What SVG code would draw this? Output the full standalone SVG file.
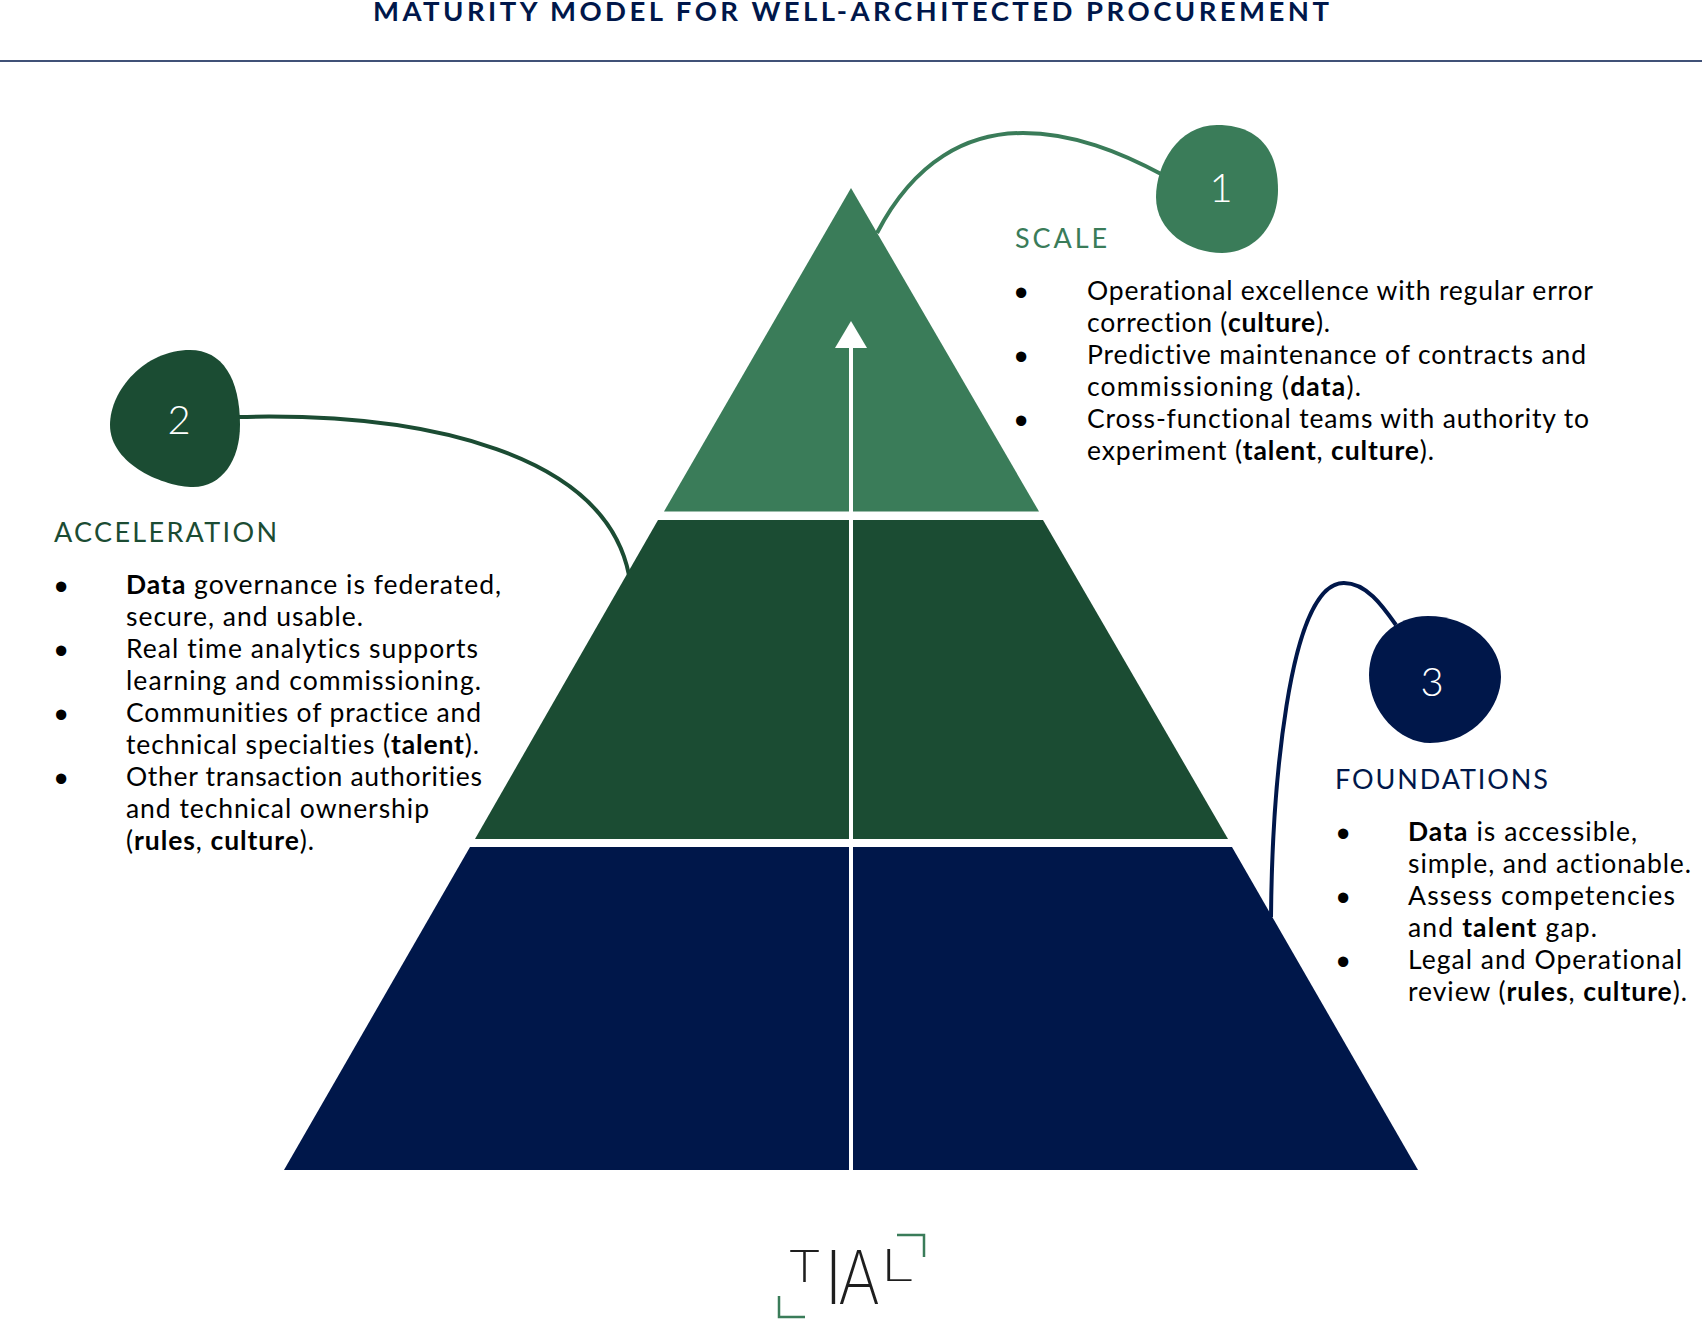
<svg xmlns="http://www.w3.org/2000/svg" width="1702" height="1320" viewBox="0 0 1702 1320">
<style>
text{font-family:"Lato","Noto Sans","Liberation Sans",sans-serif;font-variant-ligatures:none}
.t{font-size:26.5px;fill:#000}
.t tspan{font-weight:700}
.b{font-size:38px;fill:#000;font-family:"Liberation Sans",sans-serif}
.h{font-size:27px}
.n{font-size:40px;fill:#fff;text-anchor:middle;font-weight:300}
.c{fill:none;stroke-width:4}
.g{fill:#3a7c59}.d{fill:#1b4c33}.v{fill:#00174a}
.lg{fill:#1e1e1e;font-family:"Inter","Lato",sans-serif;font-weight:200}
</style>
<g id="title">
<text x="373" y="21" font-size="27.5" font-weight="700" class="v" textLength="956">MATURITY MODEL FOR WELL-ARCHITECTED PROCUREMENT</text>
<line x1="0" y1="61" x2="1702" y2="61" stroke="#00174a" stroke-width="1.6"/>
</g>
<g id="connectors">
<path class="c" stroke="#3a7c59" d="M877 233C915 160 968 133 1023 133C1073 133 1120 152 1163 175"/>
<path class="c" stroke="#1b4c33" d="M238 417C430 412 605 455 629 575"/>
<path class="c" stroke="#00174a" d="M1271 917C1272 800 1287 582 1344 583C1366 583 1382 605 1396 625"/>
</g>
<g id="pyramid">
<polygon id="tier-scale" class="g" points="851,188 1039,511.5 664,511.5"/>
<polygon id="tier-acceleration" class="d" points="658,520 1043,520 1228,839 475,839"/>
<polygon id="tier-foundations" class="v" points="470,847 1232,847 1418,1170 284,1170"/>
<g id="arrow">
<rect x="849" y="348" width="4" height="822" fill="#fff"/>
<polygon points="851,321 867,348 835,348" fill="#fff"/>
</g>
</g>
<g id="node-1">
<path class="g" d="M1217 125C1255 125 1278 146 1278 190C1278 225 1255 253 1222 253C1190 253 1156 232 1156 197C1156 165 1178 125 1217 125Z"/>
<text class="n" x="1221" y="202">1</text>
</g>
<g id="node-2">
<path class="d" d="M190 350C222 350 240 378 240 425C240 460 222 487 193 487C165 487 110 465 110 425C110 390 145 350 190 350Z"/>
<text class="n" x="179" y="434">2</text>
</g>
<g id="node-3">
<path class="v" d="M1428 616C1470 616 1501 645 1501 677C1501 705 1475 743 1430 743C1400 743 1369 712 1369 675C1369 640 1395 616 1428 616Z"/>
<text class="n" x="1432" y="696">3</text>
</g>
<g id="text-scale">
<text class="h g" x="1015" y="248" textLength="92">SCALE</text>
<text class="b" x="1014.500" y="306">•</text><text class="b" x="1014.500" y="370">•</text><text class="b" x="1014.500" y="434">•</text>
<text class="t" x="1087" y="300" textLength="506">Operational excellence with regular error</text>
<text class="t" x="1087" y="332" textLength="243">correction (<tspan>culture</tspan>).</text>
<text class="t" x="1087" y="364" textLength="499">Predictive maintenance of contracts and</text>
<text class="t" x="1087" y="396" textLength="274">commissioning (<tspan>data</tspan>).</text>
<text class="t" x="1087" y="428" textLength="502">Cross-functional teams with authority to</text>
<text class="t" x="1087" y="460" textLength="347">experiment (<tspan>talent</tspan>, <tspan>culture</tspan>).</text>
</g>
<g id="text-acceleration">
<text class="h d" x="54" y="542" textLength="223">ACCELERATION</text>
<text class="b" x="54.500" y="600">•</text><text class="b" x="54.500" y="664">•</text><text class="b" x="54.500" y="728">•</text><text class="b" x="54.500" y="792">•</text>
<text class="t" x="126" y="594" textLength="375"><tspan>Data</tspan> governance is federated,</text>
<text class="t" x="126" y="626" textLength="237">secure, and usable.</text>
<text class="t" x="126" y="658" textLength="352">Real time analytics supports</text>
<text class="t" x="126" y="690" textLength="355">learning and commissioning.</text>
<text class="t" x="126" y="722" textLength="355">Communities of practice and</text>
<text class="t" x="126" y="754" textLength="353">technical specialties (<tspan>talent</tspan>).</text>
<text class="t" x="126" y="786" textLength="356">Other transaction authorities</text>
<text class="t" x="126" y="818" textLength="303">and technical ownership</text>
<text class="t" x="126" y="850" textLength="188">(<tspan>rules</tspan>, <tspan>culture</tspan>).</text>
</g>
<g id="text-foundations">
<text class="h v" x="1335" y="789" textLength="213">FOUNDATIONS</text>
<text class="b" x="1336.500" y="847">•</text><text class="b" x="1336.500" y="911">•</text><text class="b" x="1336.500" y="975">•</text>
<text class="t" x="1408" y="841" textLength="229"><tspan>Data</tspan> is accessible,</text>
<text class="t" x="1408" y="873" textLength="283">simple, and actionable.</text>
<text class="t" x="1408" y="905" textLength="267">Assess competencies</text>
<text class="t" x="1408" y="937" textLength="189">and <tspan>talent</tspan> gap.</text>
<text class="t" x="1408" y="969" textLength="274">Legal and Operational</text>
<text class="t" x="1408" y="1001" textLength="279">review (<tspan>rules</tspan>, <tspan>culture</tspan>).</text>
</g>
<g id="logo">
<text class="lg" x="787" y="1282" font-size="44" textLength="35" lengthAdjust="spacingAndGlyphs">T</text>
<text class="lg" x="824" y="1304" font-size="74">I</text>
<text class="lg" x="838" y="1304" font-size="74" textLength="42" lengthAdjust="spacingAndGlyphs">A</text>
<text class="lg" x="881" y="1281" font-size="43" textLength="34" lengthAdjust="spacingAndGlyphs">L</text>
<path d="M897 1235H924V1257M779 1296V1317H805" fill="none" stroke="#3a7c59" stroke-width="2.5"/>
</g>
</svg>
